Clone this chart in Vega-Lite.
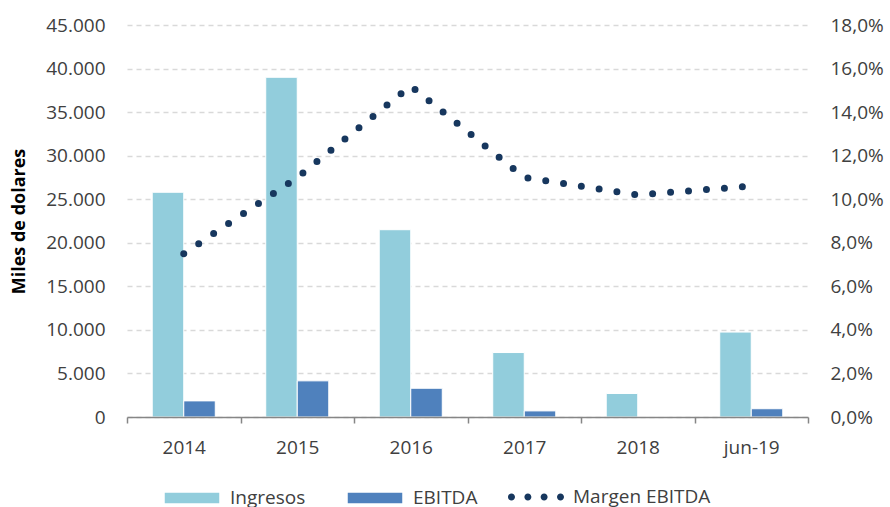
{
  "$schema": "https://vega.github.io/schema/vega-lite/v6.json",
  "width": 681,
  "height": 392,
  "autosize": "none",
  "padding": {"left": 127, "top": 25, "right": 82, "bottom": 90},
  "config": {
    "locale": {"number": {"decimal": ",", "thousands": ".", "grouping": [3], "currency": ["$", ""]}},
    "view": {"stroke": null},
    "font": "Open Sans",
    "axis": {"labelFont": "Open Sans", "labelFontSize": 19, "labelColor": "#404040"},
    "legend": {"labelFont": "Open Sans", "labelFontSize": 19, "labelColor": "#404040", "padding": 0}
  },
  "layer": [
    {
      "data": {"values": [
        {"periodo": "2014", "serie": "Ingresos", "valor": 25800},
        {"periodo": "2014", "serie": "EBITDA", "valor": 1850},
        {"periodo": "2015", "serie": "Ingresos", "valor": 39000},
        {"periodo": "2015", "serie": "EBITDA", "valor": 4150},
        {"periodo": "2016", "serie": "Ingresos", "valor": 21500},
        {"periodo": "2016", "serie": "EBITDA", "valor": 3300},
        {"periodo": "2017", "serie": "Ingresos", "valor": 7400},
        {"periodo": "2017", "serie": "EBITDA", "valor": 700},
        {"periodo": "2018", "serie": "Ingresos", "valor": 2700},
        {"periodo": "2018", "serie": "EBITDA", "valor": 0},
        {"periodo": "jun-19", "serie": "Ingresos", "valor": 9750},
        {"periodo": "jun-19", "serie": "EBITDA", "valor": 950}
      ]},
      "mark": {"type": "bar", "stroke": "white", "strokeWidth": 1},
      "encoding": {
        "x": {
          "field": "periodo", "type": "nominal",
          "sort": ["2014", "2015", "2016", "2017", "2018", "jun-19"],
          "scale": {"paddingInner": 0, "paddingOuter": 0},
          "axis": {"title": null, "labelAngle": 0, "tickBand": "extent", "domainColor": "#868686", "domainWidth": 1.5, "tickColor": "#868686", "tickWidth": 1.5, "tickSize": 6, "labelPadding": 15, "grid": false, "zindex": 1}
        },
        "xOffset": {"field": "serie", "type": "nominal", "sort": ["Ingresos", "EBITDA"], "scale": {"paddingInner": 0, "paddingOuter": 0.8}},
        "y": {
          "field": "valor", "type": "quantitative",
          "scale": {"domain": [0, 45000]},
          "axis": {"title": "Miles de dolares", "titleFont": "Open Sans", "titleFontSize": 18, "titleFontWeight": "bold", "titleColor": "#000000", "titlePadding": 17,
                   "values": [0, 5000, 10000, 15000, 20000, 25000, 30000, 35000, 40000, 45000], "format": ",.0f",
                   "domain": false, "ticks": false, "labelPadding": 22, "grid": true, "gridColor": "#D9D9D9", "gridDash": [5, 4], "gridWidth": 1.3}
        },
        "color": {
          "field": "serie", "type": "nominal",
          "sort": ["Ingresos", "EBITDA"],
          "scale": {"domain": ["Ingresos", "EBITDA"], "range": ["#92CDDC", "#4F81BD"]},
          "legend": {
            "title": null, "orient": "none", "legendX": 36, "legendY": 444, "direction": "horizontal",
            "symbolType": "M-1,-0.21H1V0.21H-1Z",
            "symbolSize": 3136, "labelOffset": 9, "columnPadding": 38
          }
        }
      }
    },
    {
      "data": {"values": [
        {"periodo": "2014", "margen": 0.075},
        {"periodo": "2015", "margen": 0.110},
        {"periodo": "2016", "margen": 0.152},
        {"periodo": "2017", "margen": 0.110},
        {"periodo": "2018", "margen": 0.102},
        {"periodo": "jun-19", "margen": 0.106}
      ]},
      "mark": {"type": "line", "strokeWidth": 7, "strokeDash": [0, 18], "strokeCap": "round", "interpolate": "linear"},
      "encoding": {
        "x": {"field": "periodo", "type": "nominal", "sort": ["2014", "2015", "2016", "2017", "2018", "jun-19"]},
        "y": {
          "field": "margen", "type": "quantitative",
          "scale": {"domain": [0, 0.18]},
          "axis": {"orient": "right", "title": null, "format": ".1%", "values": [0, 0.02, 0.04, 0.06, 0.08, 0.1, 0.12, 0.14, 0.16, 0.18], "domain": false, "ticks": false, "grid": false, "labelPadding": 22}
        },
        "stroke": {
          "datum": "Margen EBITDA",
          "scale": {"domain": ["Margen EBITDA"], "range": ["#17375E"]},
          "legend": {
            "title": null, "orient": "none", "legendX": 381, "legendY": 444, "direction": "horizontal",
            "symbolType": "M-1,0a0.125,0.125 0 1,0 0.25,0a0.125,0.125 0 1,0 -0.25,0M-0.415,0a0.125,0.125 0 1,0 0.25,0a0.125,0.125 0 1,0 -0.25,0M0.165,0a0.125,0.125 0 1,0 0.25,0a0.125,0.125 0 1,0 -0.25,0M0.75,0a0.125,0.125 0 1,0 0.25,0a0.125,0.125 0 1,0 -0.25,0",
            "symbolSize": 3136, "labelOffset": 9, "symbolStrokeWidth": 0, "symbolFillColor": "#17375E",
            "encode": {"symbols": {"update": {"fill": {"value": "#17375E"}, "strokeWidth": {"value": 0}, "opacity": {"value": 1}}}}
          }
        }
      }
    }
  ],
  "resolve": {"scale": {"y": "independent"}}
}
